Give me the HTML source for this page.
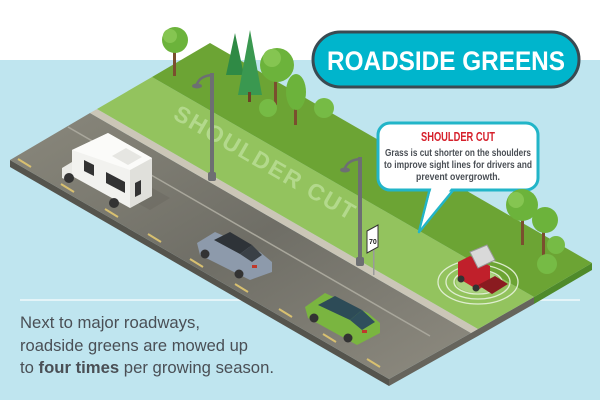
<!DOCTYPE html>
<html><head><meta charset="utf-8"><style>
html,body{margin:0;padding:0;background:#fff}
svg{display:block}
</style></head><body>
<svg width="600" height="400" viewBox="0 0 600 400" xmlns="http://www.w3.org/2000/svg" font-family="Liberation Sans, sans-serif">
<defs>
<linearGradient id="rd" x1="0" y1="0" x2="1" y2="1">
<stop offset="0" stop-color="#8a887c"/><stop offset="0.5" stop-color="#6f6e66"/><stop offset="1" stop-color="#8e8b80"/>
</linearGradient>
</defs>
<rect x="0" y="0" width="600" height="60" fill="#ffffff"/>
<rect x="0" y="60" width="600" height="340" fill="#bfe5ef"/>
<line x1="20" y1="300" x2="580" y2="300" stroke="#e4f4f8" stroke-width="2"/>

<polygon points="10,160 389,379 389,386 10,167" fill="#55544d"/>
<polygon points="389,379 471,333 478,329 534,297 534,304 478,336 389,386" fill="#66645c"/>
<polygon points="534,297 592,263 592,270 534,304" fill="#4f8a2a"/>

<polygon points="10,160 90,113 471,333 389,379" fill="url(#rd)"/>
<line x1="68" y1="127" x2="430" y2="336" stroke="#a9a79c" stroke-width="1.5"/>
<g stroke="#d8c070" stroke-width="2">
<line x1="18" y1="159" x2="31" y2="167"/><line x1="61" y1="184" x2="74" y2="192"/>
<line x1="105" y1="209" x2="118" y2="217"/><line x1="148" y1="234" x2="161" y2="242"/>
<line x1="190" y1="259" x2="203" y2="267"/><line x1="235" y1="284" x2="248" y2="292"/>
<line x1="279" y1="309" x2="292" y2="317"/><line x1="323" y1="334" x2="336" y2="342"/>
<line x1="367" y1="359" x2="380" y2="367"/>
</g>
<polygon points="90,113 97,109 478,329 471,333" fill="#cbc6b7"/>
<polygon points="97,109 152,77 534,297 478,329" fill="#93c35e"/>
<polygon points="152,77 210,43 592,263 534,297" fill="#6ca434"/>

<text x="0" y="0" transform="translate(172,118) rotate(30)" font-size="23" font-weight="bold" fill="#b3d98c" letter-spacing="2">SHOULDER CUT</text>

<g>
<rect x="173" y="50" width="3" height="26" fill="#7a4f2e"/>
<circle cx="175" cy="40" r="13" fill="#6cb33b"/><circle cx="170" cy="36" r="7" fill="#85c551"/>
<polygon points="235,33 226,75 244,75" fill="#2f8a45"/>
<polygon points="250,30 238,95 262,95" fill="#3a9850"/>
<rect x="248" y="92" width="3" height="10" fill="#6b4226"/>
<rect x="274" y="80" width="3" height="25" fill="#7a4f2e"/>
<circle cx="277" cy="65" r="17" fill="#6cb33b"/><circle cx="272" cy="58" r="9" fill="#85c551"/>
<rect x="294" y="100" width="3" height="25" fill="#7a4f2e"/>
<ellipse cx="296" cy="92" rx="10" ry="18" fill="#6cb33b"/>
<circle cx="268" cy="108" r="9" fill="#76bb45"/>
<circle cx="324" cy="108" r="10" fill="#76bb45"/>
</g>

<g fill="#6d6f72">
<rect x="210" y="73" width="4" height="107"/><path d="M212 75 Q200 76 197 84" stroke="#6d6f72" stroke-width="2.5" fill="none"/><ellipse cx="197" cy="86" rx="5" ry="2.5"/>
<rect x="208" y="172" width="8" height="9" rx="2"/>
<rect x="358" y="157" width="4" height="108"/><path d="M360 159 Q348 160 345 168" stroke="#6d6f72" stroke-width="2.5" fill="none"/><ellipse cx="345" cy="170" rx="5" ry="2.5"/>
<rect x="356" y="257" width="8" height="9" rx="2"/>
</g>
<rect x="373" y="240" width="1.5" height="35" fill="#9a9a9a"/>
<polygon points="367,231 378,225 378,247 367,253" fill="#fff" stroke="#333" stroke-width="1"/>
<text x="369" y="244" font-size="7" font-weight="bold" fill="#222">70</text>

<!-- RV -->
<g>
<polygon points="100,182 150,210 170,198 120,170" fill="#6a685f" opacity="0.5"/>
<polygon points="72,150 108,133 152,158 152,196 130,208 72,176" fill="#f2f2ef"/>
<polygon points="130,170 152,158 152,196 130,208" fill="#e0e0db"/>
<polygon points="72,150 108,133 152,158 130,170" fill="#fbfbf9"/>
<polygon points="62,168 72,162 72,182 62,178" fill="#eaeae6"/>
<polygon points="84,160 94,165 94,176 84,171" fill="#333"/>
<polygon points="106,172 125,182 125,193 106,183" fill="#333"/>
<polygon points="135,183 141,180 141,194 135,197" fill="#333"/>
<circle cx="69" cy="178" r="5" fill="#333"/><circle cx="114" cy="203" r="5" fill="#333"/>
<polygon points="112,156 126,148 142,157 128,165" fill="#e6e6e2"/>
</g>
<g>
<polygon points="197,243 215,232 260,252 272,262 272,272 250,280 200,255" fill="#8d9aab"/>
<polygon points="214,240 230,232 252,245 240,254" fill="#2e3338"/>
<polygon points="240,254 252,245 262,255 252,262" fill="#3a4046"/>
<circle cx="205" cy="254" r="4.5" fill="#333"/><circle cx="239" cy="274" r="4.5" fill="#333"/>
<rect x="252" y="265" width="5" height="3" fill="#c0392b"/>
</g>
<g>
<polygon points="305,307 325,293 368,313 380,323 380,333 357,345 308,318" fill="#7ab540"/>
<polygon points="318,305 335,296 362,310 350,320" fill="#2d4b57"/>
<polygon points="350,320 362,310 375,322 362,330" fill="#2f4f5c"/>
<circle cx="314" cy="318" r="4.5" fill="#333"/><circle cx="348" cy="338" r="4.5" fill="#333"/>
<rect x="362" y="330" width="5" height="3" fill="#c0392b"/>
</g>

<polygon points="430,188 455,188 419,232" fill="#fff" stroke="#22b5c8" stroke-width="2.5" stroke-linejoin="round"/>
<rect x="378" y="123" width="160" height="67" rx="12" fill="#fff" stroke="#22b5c8" stroke-width="3"/>
<polygon points="432,186 453,186 421,228" fill="#fff"/>
<text x="458" y="141" text-anchor="middle" font-size="12.5" font-weight="bold" fill="#d6202b" textLength="74" lengthAdjust="spacingAndGlyphs">SHOULDER CUT</text>
<g font-size="10" font-weight="bold" fill="#4a4f55" text-anchor="middle">
<text x="458" y="156" textLength="146" lengthAdjust="spacingAndGlyphs">Grass is cut shorter on the shoulders</text>
<text x="458" y="168" textLength="148" lengthAdjust="spacingAndGlyphs">to improve sight lines for drivers and</text>
<text x="458" y="180" textLength="84" lengthAdjust="spacingAndGlyphs">prevent overgrowth.</text>
</g>

<rect x="521" y="215" width="3" height="30" fill="#7a4f2e"/>
<circle cx="522" cy="205" r="16" fill="#6cb33b"/><circle cx="516" cy="200" r="8" fill="#85c551"/>
<rect x="542" y="228" width="3" height="30" fill="#7a4f2e"/>
<circle cx="545" cy="220" r="13" fill="#6cb33b"/>
<circle cx="556" cy="245" r="9" fill="#76bb45"/>
<circle cx="547" cy="264" r="10" fill="#76bb45"/>

<g fill="none" stroke="#e8f3dd" stroke-width="1.3" opacity="0.9">
<ellipse cx="478" cy="282" rx="40" ry="22"/><ellipse cx="478" cy="282" rx="32" ry="17"/><ellipse cx="478" cy="282" rx="24" ry="12"/>
</g>
<ellipse cx="478" cy="282" rx="22" ry="11" fill="#b9dd94" opacity="0.6"/>
<polygon points="458,262 470,256 490,266 490,282 478,290 458,278" fill="#c0202b"/>
<polygon points="470,252 487,245 495,260 478,268" fill="#d9d9d9" stroke="#999" stroke-width="1"/>
<polygon points="478,285 495,276 508,284 492,294" fill="#8a1b20"/>
<circle cx="461" cy="279" r="3.5" fill="#333"/><circle cx="476" cy="288" r="3.5" fill="#333"/>

<rect x="313" y="32" width="266" height="55" rx="27.5" fill="#00b5cc" stroke="#3a4a52" stroke-width="3"/>
<text x="446" y="70" text-anchor="middle" font-size="27" font-weight="bold" fill="#fff" textLength="238" lengthAdjust="spacingAndGlyphs">ROADSIDE GREENS</text>

<g font-size="17" fill="#4a4f55">
<text x="20" y="328" textLength="180" lengthAdjust="spacingAndGlyphs">Next to major roadways,</text>
<text x="20" y="351" textLength="228" lengthAdjust="spacingAndGlyphs">roadside greens are mowed up</text>
<text x="20" y="373" textLength="254" lengthAdjust="spacingAndGlyphs">to <tspan font-weight="bold">four times</tspan> per growing season.</text>
</g>
</svg>
</body></html>
